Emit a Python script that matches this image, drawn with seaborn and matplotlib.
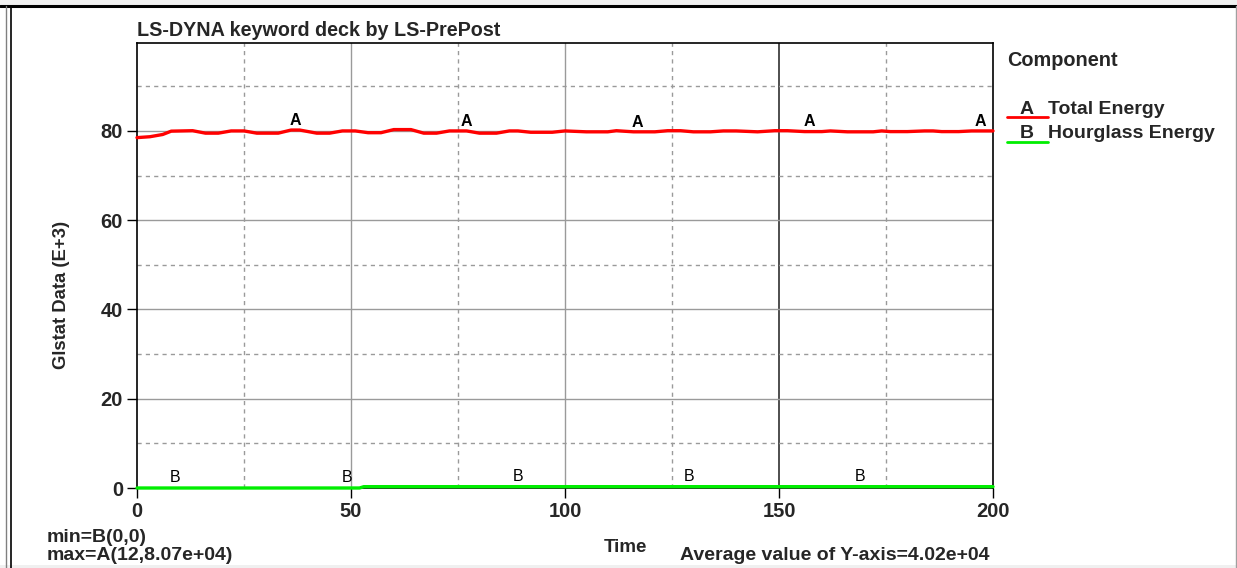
import numpy as np
import pandas as pd
import matplotlib
matplotlib.use("Agg")
import matplotlib.pyplot as plt
import seaborn as sns
from matplotlib.patches import Rectangle
from matplotlib.lines import Line2D

# ---- data (values in E+3) ----
total_t = [0, 3, 6, 8, 13, 16, 19, 22, 25, 28, 33, 36, 38, 42, 45, 48, 51, 54, 57, 60, 64,
           67, 70, 73, 77, 80, 84, 87, 89, 92, 97, 100, 105, 110, 112, 116, 121, 124, 127,
           130, 134, 137, 140, 145, 149, 152, 156, 160, 162, 166, 172, 174, 176, 180, 184,
           186, 188, 192, 195, 200]
total_e = [78.5, 78.7, 79.2, 79.95, 80.05, 79.5, 79.5, 80.0, 80.0, 79.5, 79.5, 80.2, 80.2,
           79.5, 79.5, 80.0, 80.0, 79.6, 79.6, 80.3, 80.3, 79.5, 79.5, 80.0, 80.0, 79.5,
           79.5, 80.0, 80.0, 79.7, 79.7, 80.0, 79.8, 79.8, 80.05, 79.8, 79.8, 80.05, 80.05,
           79.8, 79.8, 80.0, 80.0, 79.8, 80.05, 80.05, 79.85, 79.85, 80.0, 79.8, 79.8, 80.0,
           79.85, 79.85, 80.0, 80.0, 79.85, 79.85, 80.0, 80.0]
hg_t = [0, 52, 53, 200]
hg_e = [0.0, 0.0, 0.3, 0.3]

a_label_t = [37, 77, 117, 157, 197]
b_label_t = [9, 49, 89, 129, 169]

title = "LS-DYNA keyword deck by LS-PrePost"
series_names = ["Total Energy", "Hourglass Energy"]
series_letters = ["A", "B"]
colors = ["#ff0000", "#00ee00"]
xticks = [0, 50, 100, 150, 200]
yticks = [0, 20, 40, 60, 80]

df = pd.concat([
    pd.DataFrame({"Time": total_t, "Value": total_e, "Component": series_names[0]}),
    pd.DataFrame({"Time": hg_t, "Value": hg_e, "Component": series_names[1]}),
])

sns.set_theme(style="white")
plt.rcParams['font.family'] = ['Liberation Sans', 'DejaVu Sans']
plt.rcParams['font.weight'] = 'bold'

W, H = 1237, 568
fig = plt.figure(figsize=(W / 100, H / 100), dpi=100)
fig.patch.set_facecolor("white")

def fx(px):
    return px / W

def fy(py):
    return 1 - py / H

# window decoration
fig.patches.append(Rectangle((0, fy(5)), 1, 5 / H, transform=fig.transFigure,
                             facecolor="#f0f0f0", edgecolor="none", zorder=-5))
fig.patches.append(Rectangle((0, 0), 1, 3 / H, transform=fig.transFigure,
                             facecolor="#f0f0f0", edgecolor="none", zorder=-5))
fig.lines.append(Line2D([0, 1], [fy(6), fy(6)], transform=fig.transFigure, color="black", lw=2.2))
fig.lines.append(Line2D([fx(6), fx(6)], [0, fy(6)], transform=fig.transFigure, color="#808080", lw=1))
fig.lines.append(Line2D([fx(10.5), fx(10.5)], [0, fy(6)], transform=fig.transFigure, color="black", lw=1.2))
fig.lines.append(Line2D([fx(1235.5), fx(1235.5)], [0, fy(6)], transform=fig.transFigure, color="#a0a0a0", lw=1))

ax = fig.add_axes([fx(137), fy(488), (993 - 137) / W, (488 - 43) / H])
sns.lineplot(data=df, x="Time", y="Value", hue="Component", palette=colors,
             hue_order=series_names, ax=ax, legend=False, linewidth=2.4, estimator=None,
             sort=False)
for ln in ax.get_lines():
    ln.set_zorder(5)
    ln.set_clip_on(False)

ax.set_xlim(0, 200)
ax.set_ylim(0, 99.7)
ax.set_xticks(xticks)
ax.set_yticks(yticks)
ax.set_xticklabels([str(v) for v in xticks], fontsize=14.5, fontweight="bold")
ax.set_yticklabels([str(v) for v in yticks], fontsize=14.5, fontweight="bold")
ax.tick_params(axis="both", direction="out", length=7, width=1, color="black",
               bottom=True, left=True, pad=3)
ax.set_xlabel("")
ax.set_ylabel("")
for s in ax.spines.values():
    s.set_color("black")
    s.set_linewidth(1.2)
    s.set_zorder(2)

# grid lines
for xv in [50, 100]:
    ax.axvline(xv, color="#9a9a9a", lw=1, zorder=0)
ax.axvline(150, color="#303030", lw=1.2, zorder=0)
for xv in [25, 75, 125, 175]:
    ax.axvline(xv, color="#9a9a9a", lw=1, ls=(0, (3, 3)), zorder=0)
for yv in [20, 40, 60, 80]:
    ax.axhline(yv, color="#9a9a9a", lw=1, zorder=0)
for yv in [10, 30, 50, 70, 90]:
    ax.axhline(yv, color="#9a9a9a", lw=1, ls=(0, (3, 3)), zorder=0)

# curve identifiers
for t in a_label_t:
    yv = np.interp(t, total_t, total_e)
    ax.text(t, yv + 0.5, "A", ha="center", va="bottom", fontsize=11.5, fontweight="bold",
            color="black", zorder=6)
for t in b_label_t:
    yv = np.interp(t, hg_t, hg_e)
    ax.text(t, yv + 0.7, "B", ha="center", va="bottom", fontsize=11.5, fontweight="normal",
            color="black", zorder=6)

# title and labels
fig.text(fx(137), fy(31), title, ha="left", va="center", fontsize=14.2, fontweight="bold")
fig.text(fx(62), fy(295), "Glstat Data (E+3)", rotation=90, ha="center", va="center",
         fontsize=13.3, fontweight="bold")
fig.text(fx(625), fy(547), "Time", ha="center", va="center", fontsize=13.5, fontweight="bold")
fig.text(fx(47), fy(538), "min=B(0,0)", ha="left", va="center", fontsize=14, fontweight="bold")
fig.text(fx(47), fy(555), "max=A(12,8.07e+04)", ha="left", va="center", fontsize=14,
         fontweight="bold")
fig.text(fx(680), fy(556), "Average value of Y-axis=4.02e+04", ha="left", va="center",
         fontsize=14, fontweight="bold")

# legend
fig.text(fx(1007), fy(60), "Component", ha="left", va="center", fontsize=14.3, fontweight="bold")
for i, (name, letter, c) in enumerate(zip(series_names, series_letters, colors)):
    yl = 109 + 25 * i
    fig.text(fx(1027), fy(yl), letter, ha="center", va="center", fontsize=14, fontweight="bold")
    fig.text(fx(1048), fy(yl), name, ha="left", va="center", fontsize=14, fontweight="bold")
    fig.lines.append(Line2D([fx(1007), fx(1048)], [fy(yl + 8), fy(yl + 8)],
                            transform=fig.transFigure, color=c, lw=2))

fig.savefig("out.png", dpi=100, facecolor=fig.get_facecolor())
